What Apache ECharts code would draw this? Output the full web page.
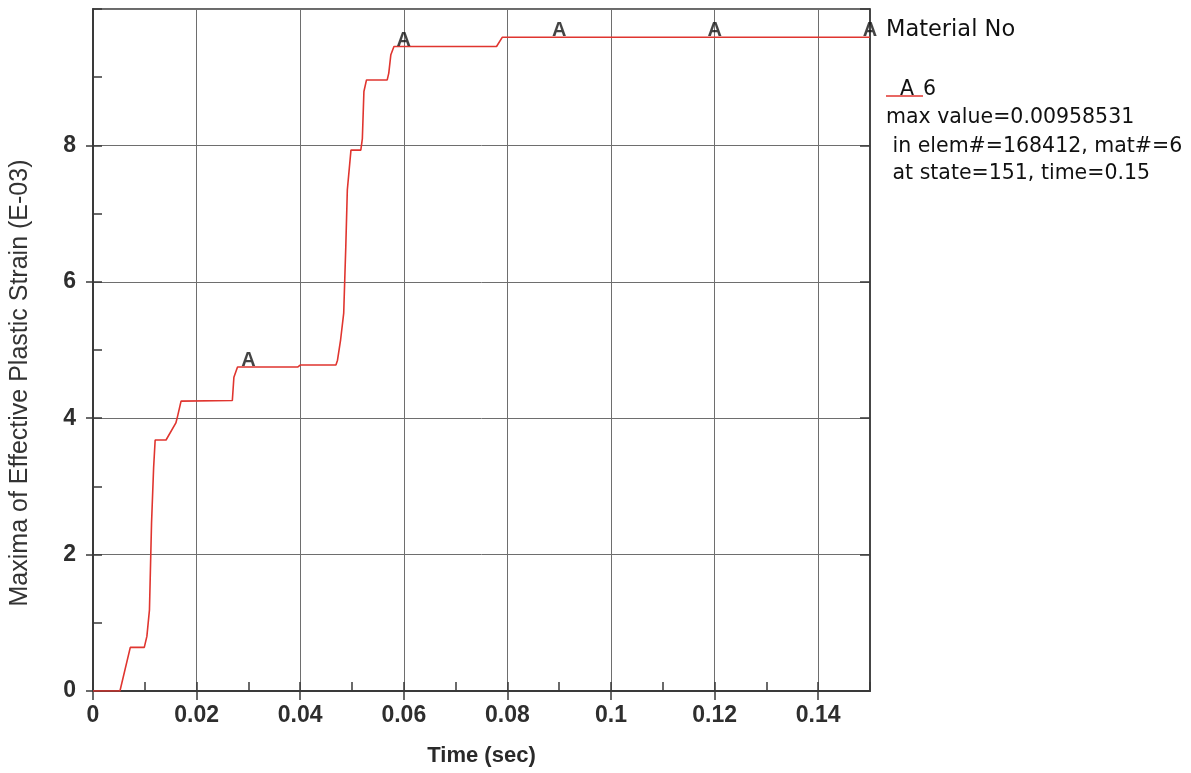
<!DOCTYPE html>
<html>
<head>
<meta charset="utf-8">
<script src="https://cdn.jsdelivr.net/npm/echarts@6/dist/echarts.min.js"></script>
<style>
  html, body { margin: 0; padding: 0; background: #ffffff; }
  #chart { width: 1191px; height: 773px; }
</style>
</head>
<body>
<div id="chart"></div>
<script>
// Time history of the maximum effective plastic strain (values in E-03)
const timeSec = [0, 0.0052, 0.0072, 0.0099, 0.0104, 0.0109, 0.0113, 0.0117, 0.0120, 0.0141,
  0.0160, 0.0163, 0.0170, 0.0269, 0.0272, 0.0279, 0.0395, 0.0400, 0.0469, 0.0472,
  0.0478, 0.0484, 0.0486, 0.0488, 0.0491, 0.0498, 0.0517, 0.0520, 0.0523, 0.0528,
  0.0568, 0.0571, 0.0575, 0.0581, 0.0779, 0.0790, 0.15];
const strainE3 = [0, 0, 0.64, 0.64, 0.80, 1.19, 2.46, 3.27, 3.68, 3.68,
  3.93, 4.02, 4.25, 4.26, 4.60, 4.75, 4.75, 4.78, 4.78, 4.85,
  5.15, 5.54, 6.03, 6.51, 7.35, 7.93, 7.93, 8.10, 8.79, 8.96,
  8.96, 9.06, 9.33, 9.45, 9.45, 9.585, 9.585];

// Curve identifier letters placed along the curve
const markerTimes = [0.03, 0.06, 0.09, 0.12, 0.15];
const curveLetter = 'A';

// Axis tick labels
const xTickLabels = ['0', '0.02', '0.04', '0.06', '0.08', '0.1', '0.12', '0.14'];
const yTickLabels = ['0', '2', '4', '6', '8'];

// Legend / annotation text
const legendTitle = 'Material No';
const legendEntry = '6';
const infoLines = ['max value=0.00958531', ' in elem#=168412, mat#=6', ' at state=151, time=0.15'];

function valueAt(t) {
  for (let i = 1; i < timeSec.length; i++) {
    if (t <= timeSec[i]) {
      const t0 = timeSec[i - 1], t1 = timeSec[i];
      const f = (t - t0) / (t1 - t0);
      return strainE3[i - 1] + f * (strainE3[i] - strainE3[i - 1]);
    }
  }
  return strainE3[strainE3.length - 1];
}

const curve = timeSec.map((t, i) => [t, strainE3[i]]);
const markers = markerTimes.map(t => [t, valueAt(t)]);

const axisColor = '#3a3a3a';
const gridColor = '#6e6e6e';
const tickFont = { fontFamily: 'Liberation Sans', fontSize: 23, fontWeight: 'bold', color: '#2e2e2e' };
const infoFont = '20.5px "DejaVu Sans"';
const infoColor = '#111111';

const chart = echarts.init(document.getElementById('chart'), null, { renderer: 'canvas' });
chart.setOption({
  backgroundColor: '#ffffff',
  animation: false,
  grid: {
    left: 92, right: 321, top: 9, bottom: 82,
    show: true, borderColor: axisColor, borderWidth: 1.5, backgroundColor: 'transparent'
  },
  xAxis: [
    {
      type: 'value', min: 0, max: 0.15, interval: 0.02, position: 'bottom',
      name: 'Time (sec)', nameLocation: 'middle', nameGap: 54,
      nameTextStyle: { fontFamily: 'Liberation Sans', fontSize: 22, fontWeight: 'bold', color: '#2a2a2a' },
      axisLine: { show: true, lineStyle: { color: axisColor, width: 2 } },
      axisTick: { show: true, inside: false, length: 9, lineStyle: { color: axisColor, width: 1.5 } },
      axisLabel: Object.assign({
        margin: 13, showMaxLabel: false,
        formatter: v => xTickLabels[Math.round(v / 0.02)] ?? ''
      }, tickFont),
      splitLine: { show: true, lineStyle: { color: gridColor, width: 1 } }
    },
    {
      type: 'value', min: 0, max: 0.15, interval: 0.01, position: 'bottom',
      axisLine: { show: false },
      axisTick: { show: true, inside: true, length: 9, lineStyle: { color: axisColor, width: 1.5 } },
      axisLabel: { show: false },
      splitLine: { show: false }
    }
  ],
  yAxis: [
    {
      type: 'value', min: 0, max: 10, interval: 2, position: 'left',
      name: 'Maxima of Effective Plastic Strain (E-03)', nameLocation: 'middle', nameGap: 60,
      nameTextStyle: { fontFamily: 'Liberation Sans', fontSize: 25, color: '#333333', padding: [0, 66, 0, 0] },
      axisLine: { show: true, lineStyle: { color: axisColor, width: 2 } },
      axisTick: { show: true, inside: false, length: 7, lineStyle: { color: axisColor, width: 1.5 } },
      axisLabel: Object.assign({
        margin: 17, showMaxLabel: false,
        formatter: v => yTickLabels[Math.round(v / 2)] ?? ''
      }, tickFont),
      splitLine: { show: true, lineStyle: { color: gridColor, width: 1 } }
    },
    {
      type: 'value', min: 0, max: 10, interval: 1, position: 'left',
      axisLine: { show: false },
      axisTick: { show: true, inside: true, length: 9, lineStyle: { color: axisColor, width: 1.5 } },
      axisLabel: { show: false },
      splitLine: { show: false }
    },
    {
      type: 'value', min: 0, max: 10, interval: 2, position: 'right',
      axisLine: { show: true, lineStyle: { color: axisColor, width: 1.5 } },
      axisTick: { show: true, inside: true, length: 10, lineStyle: { color: axisColor, width: 1.5 } },
      axisLabel: { show: false },
      splitLine: { show: false }
    }
  ],
  series: [
    {
      type: 'line', xAxisIndex: 0, yAxisIndex: 0,
      data: curve, showSymbol: false, symbol: 'none',
      lineStyle: { color: '#e0352f', width: 1.6 },
      z: 3
    },
    {
      type: 'scatter', xAxisIndex: 0, yAxisIndex: 0,
      data: markers, symbolSize: 1, clip: false,
      itemStyle: { color: 'transparent' },
      label: {
        show: true, position: 'top', distance: -4,
        formatter: curveLetter,
        fontFamily: 'Liberation Sans', fontSize: 20, fontWeight: 'bold', color: '#151515'
      },
      z: 4
    }
  ],
  graphic: [
    { type: 'text', left: 886, top: 19, style: { text: legendTitle, font: '22.5px "DejaVu Sans"', fill: infoColor } },
    { type: 'line', shape: { x1: 886, y1: 96, x2: 923, y2: 96 }, style: { stroke: '#e0352f', lineWidth: 1.5 } },
    { type: 'text', left: 900, top: 79, style: { text: curveLetter, font: infoFont, fill: infoColor } },
    { type: 'text', left: 923, top: 79, style: { text: legendEntry, font: infoFont, fill: infoColor } },
    { type: 'text', left: 886, top: 107, style: { text: infoLines[0], font: infoFont, fill: infoColor } },
    { type: 'text', left: 886, top: 136, style: { text: infoLines[1], font: infoFont, fill: infoColor } },
    { type: 'text', left: 886, top: 163, style: { text: infoLines[2], font: infoFont, fill: infoColor } }
  ]
});
</script>
</body>
</html>
